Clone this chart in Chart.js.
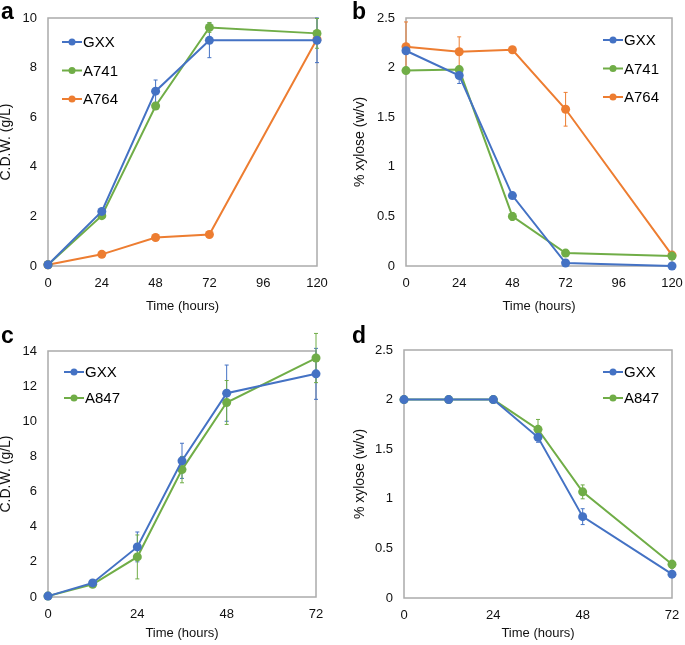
<!DOCTYPE html>
<html>
<head>
<meta charset="utf-8">
<script src="https://cdn.jsdelivr.net/npm/chart.js@4.4.1/dist/chart.umd.min.js"></script>
<style>
  body { margin: 0; background: #fff; }
  #wrap { position: relative; width: 685px; height: 645px; font-family: "Liberation Sans", Arial, sans-serif; }
  .panel { position: absolute; }
  .tag { position: absolute; font-weight: bold; font-size: 23px; color: #000; }
</style>
</head>
<body>
<div id="wrap">
  <div class="panel" style="left:0;top:0;width:340px;height:318px"><canvas id="chartA"></canvas></div>
  <div class="panel" style="left:340px;top:0;width:345px;height:318px"><canvas id="chartB"></canvas></div>
  <div class="panel" style="left:0;top:320px;width:340px;height:325px"><canvas id="chartC"></canvas></div>
  <div class="panel" style="left:340px;top:320px;width:345px;height:325px"><canvas id="chartD"></canvas></div>
  <div class="tag" style="left:1px;top:-2px">a</div>
  <div class="tag" style="left:352px;top:-2px">b</div>
  <div class="tag" style="left:1px;top:322px">c</div>
  <div class="tag" style="left:352px;top:322px">d</div>
</div>
<script>
// time points
const timeAB = [0, 24, 48, 72, 120];
const timeCD = [0, 12, 24, 36, 48, 72];

// panel a: cell dry weight (g/L)
const cdwGXX = [0.05, 2.2, 7.05, 9.1, 9.1];
const cdwGXXErr = [0, 0.05, 0.45, 0.7, 0.9];
const cdwA741 = [0.05, 2.03, 6.45, 9.62, 9.38];
const cdwA741Err = [0, 0.05, 0.1, 0.2, 0.6];
const cdwA764 = [0.05, 0.47, 1.15, 1.27, 9.15];
const cdwA764Err = [0, 0.03, 0.05, 0.1, 0.1];

// panel b: % xylose
const xylGXX = [2.17, 1.92, 0.71, 0.03, 0.0];
const xylGXXErr = [0, 0.08, 0.02, 0.02, 0];
const xylA741 = [1.97, 1.98, 0.5, 0.13, 0.1];
const xylA741Err = [0, 0.03, 0.04, 0.01, 0];
const xylA764 = [2.21, 2.16, 2.18, 1.58, 0.11];
const xylA764Err = [0.25, 0.15, 0.02, 0.17, 0.01];

// panel c: cell dry weight (g/L)
const cdw2GXX = [0.05, 0.8, 2.85, 7.75, 11.6, 12.7];
const cdw2GXXErr = [0, 0.1, 0.85, 1.0, 1.6, 1.45];
const cdw2A847 = [0.05, 0.72, 2.28, 7.25, 11.07, 13.6];
const cdw2A847Err = [0, 0.15, 1.25, 0.75, 1.25, 1.4];

// panel d: % xylose
const xyl2GXX = [2.0, 2.0, 2.0, 1.62, 0.82, 0.24];
const xyl2GXXErr = [0, 0, 0, 0.05, 0.08, 0.02];
const xyl2A847 = [2.0, 2.0, 2.0, 1.7, 1.07, 0.34];
const xyl2A847Err = [0, 0, 0, 0.1, 0.07, 0.04];

const BLUE = "#4472C4";
const GREEN = "#70AD47";
const ORANGE = "#ED7D31";
const FONT = "'Liberation Sans', Arial, sans-serif";

function series(label, xs, ys, err, color) {
  return {
    label: label,
    data: xs.map((x, i) => ({ x: x, y: ys[i] })),
    err: err,
    borderColor: color,
    backgroundColor: color,
    borderWidth: 2,
    pointRadius: 4.5,
    pointHoverRadius: 4.5,
    pointBorderWidth: 0,
    tension: 0,
    clip: false,
  };
}

// error bars + frame + in-plot legend
const extras = {
  id: "extras",
  beforeDatasetsDraw(chart) {
    const ctx = chart.ctx;
    const xs = chart.scales.x, ys = chart.scales.y;
    chart.data.datasets.forEach((ds) => {
      ctx.save();
      ctx.strokeStyle = ds.borderColor;
      ctx.lineWidth = 1;
      ds.data.forEach((p, i) => {
        const e = ds.err[i];
        if (!e) return;
        const px = xs.getPixelForValue(p.x);
        const top = ys.getPixelForValue(p.y + e);
        const bot = ys.getPixelForValue(p.y - e);
        ctx.beginPath();
        ctx.moveTo(px, top); ctx.lineTo(px, bot);
        ctx.moveTo(px - 2, top); ctx.lineTo(px + 2, top);
        ctx.moveTo(px - 2, bot); ctx.lineTo(px + 2, bot);
        ctx.stroke();
      });
      ctx.restore();
    });
  },
  beforeDraw(chart) {
    const a = chart.chartArea, ctx = chart.ctx;
    ctx.save();
    ctx.strokeStyle = "#ababab";
    ctx.lineWidth = 1.5;
    ctx.strokeRect(a.left, a.top, a.right - a.left, a.bottom - a.top);
    ctx.restore();
  },
  afterDraw(chart, args, opts) {
    const ctx = chart.ctx;
    ctx.save();
    ctx.font = "15px " + FONT;
    ctx.textBaseline = "middle";
    chart.data.datasets.forEach((ds, i) => {
      const y = opts.y + i * opts.gap;
      ctx.strokeStyle = ds.borderColor;
      ctx.fillStyle = ds.borderColor;
      ctx.lineWidth = 2;
      ctx.beginPath();
      ctx.moveTo(opts.x, y); ctx.lineTo(opts.x + 20, y);
      ctx.stroke();
      ctx.beginPath();
      ctx.arc(opts.x + 10, y, 3.5, 0, Math.PI * 2);
      ctx.fill();
      ctx.fillStyle = "#000";
      ctx.fillText(ds.label, opts.x + 21, y + 1);
    });
    ctx.restore();
  },
};

function makeChart(id, datasets, cfg) {
  new Chart(document.getElementById(id), {
    type: "line",
    data: { datasets: datasets },
    plugins: [extras],
    options: {
      responsive: true,
      maintainAspectRatio: false,
      animation: false,
      layout: { padding: cfg.padding },
      plugins: {
        legend: { display: false },
        tooltip: { enabled: false },
        extras: cfg.legend,
      },
      scales: {
        x: {
          type: "linear",
          min: 0,
          max: cfg.xMax,
          grid: { display: false },
          border: { display: false },
          afterBuildTicks: (s) => { s.ticks = cfg.xTicks.map((v) => ({ value: v })); },
          afterFit: (s) => { s.height = cfg.xHeight; },
          ticks: { color: "#111", font: { family: FONT, size: 13 }, padding: 2, maxRotation: 0 },
          title: { display: true, text: "Time (hours)", color: "#111", font: { family: FONT, size: 13 }, padding: { top: 4 } },
        },
        y: {
          min: 0,
          max: cfg.yMax,
          grid: { display: false },
          border: { display: false },
          afterFit: (s) => { s.width = cfg.yWidth; },
          ticks: { stepSize: cfg.yStep, color: "#111", font: { family: FONT, size: 13 }, padding: 3,
                   callback: (v) => String(+v.toFixed(2)) },
          title: { display: true, text: cfg.yTitle, color: "#111", font: { family: FONT, size: 14 }, padding: { top: -2, bottom: 0 } },
        },
      },
    },
  });
}

makeChart("chartA", [
  series("GXX", timeAB, cdwGXX, cdwGXXErr, BLUE),
  series("A741", timeAB, cdwA741, cdwA741Err, GREEN),
  series("A764", timeAB, cdwA764, cdwA764Err, ORANGE),
], { padding: { top: 18, right: 23, bottom: 0, left: 0 }, yWidth: 48, xHeight: 52, xMax: 120, xTicks: [0, 24, 48, 72, 96, 120], yMax: 10, yStep: 2, yTitle: "C.D.W. (g/L)", legend: { x: 62, y: 42, gap: 28.5 } });

makeChart("chartB", [
  series("GXX", timeAB, xylGXX, xylGXXErr, BLUE),
  series("A741", timeAB, xylA741, xylA741Err, GREEN),
  series("A764", timeAB, xylA764, xylA764Err, ORANGE),
], { padding: { top: 18, right: 13, bottom: 0, left: 14 }, yWidth: 52, xHeight: 52, xMax: 120, xTicks: [0, 24, 48, 72, 96, 120], yMax: 2.5, yStep: 0.5, yTitle: "% xylose (w/v)", legend: { x: 263, y: 40, gap: 28.5 } });

makeChart("chartC", [
  series("GXX", timeCD, cdw2GXX, cdw2GXXErr, BLUE),
  series("A847", timeCD, cdw2A847, cdw2A847Err, GREEN),
], { padding: { top: 31, right: 24, bottom: 0, left: 0 }, yWidth: 48, xHeight: 48, xMax: 72, xTicks: [0, 24, 48, 72], yMax: 14, yStep: 2, yTitle: "C.D.W. (g/L)", legend: { x: 64, y: 52, gap: 26 } });

makeChart("chartD", [
  series("GXX", timeCD, xyl2GXX, xyl2GXXErr, BLUE),
  series("A847", timeCD, xyl2A847, xyl2A847Err, GREEN),
], { padding: { top: 30, right: 13, bottom: 0, left: 14 }, yWidth: 50, xHeight: 47, xMax: 72, xTicks: [0, 24, 48, 72], yMax: 2.5, yStep: 0.5, yTitle: "% xylose (w/v)", legend: { x: 263, y: 52, gap: 26 } });
</script>
</body>
</html>
